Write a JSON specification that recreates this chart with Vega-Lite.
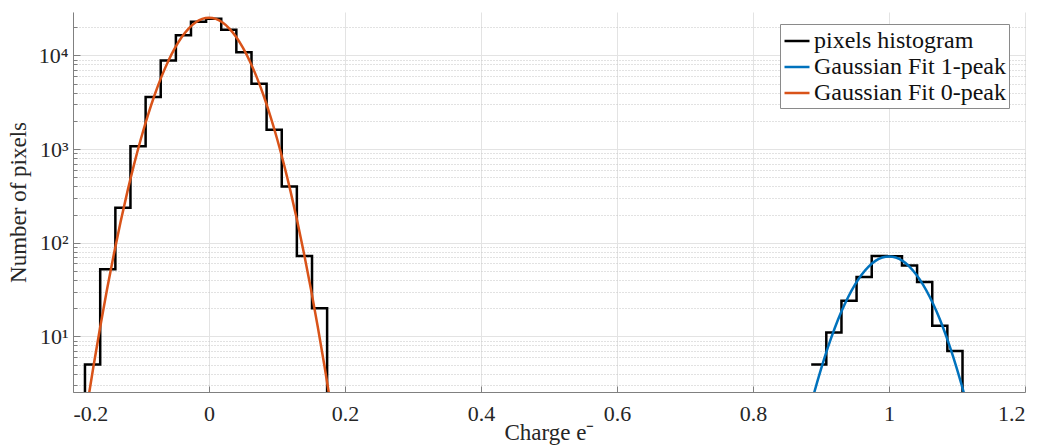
{
  "$schema": "https://vega.github.io/schema/vega-lite/v6.json",
  "width": 952,
  "height": 380,
  "autosize": {"type": "none"},
  "padding": {"left": 73, "top": 12, "right": 18, "bottom": 56},
  "background": "white",
  "config": {
    "view": {"stroke": null},
    "font": "Liberation Serif",
    "axis": {
      "labelFont": "Liberation Serif",
      "titleFont": "Liberation Serif",
      "labelColor": "#262626",
      "titleColor": "#262626",
      "titleFontWeight": "normal",
      "domainColor": "#808080",
      "tickColor": "#808080",
      "labelFontSize": 22,
      "titleFontSize": 22
    },
    "legend": {
      "orient": "none",
      "legendX": 707,
      "legendY": 12,
      "strokeColor": "#8a8a8a",
      "fillColor": "white",
      "padding": 3,
      "symbolType": "stroke",
      "symbolSize": 625,
      "symbolStrokeWidth": 2.5,
      "labelFont": "Liberation Serif",
      "labelFontSize": 24,
      "labelColor": "#111111",
      "labelOffset": 3,
      "rowPadding": 0,
      "labelLimit": 400
    }
  },
  "encoding": {
    "x": {
      "field": "charge",
      "type": "quantitative",
      "scale": {"domain": [-0.2, 1.2], "nice": false, "zero": false},
      "axis": {
        "values": [-0.2, 0, 0.2, 0.4, 0.6, 0.8, 1, 1.2],
        "labelExpr": "datum.value < -0.01 ? '-' + format(-datum.value, '.1f') : (abs(datum.value) < 0.01 ? '0' : (abs(datum.value - 1) < 0.01 ? '1' : format(datum.value, '.1f')))",
        "title": "Charge e⁻",
        "titleFontSize": 23,
        "grid": true,
        "gridColor": "#e3e3e3",
        "tickSize": -6,
        "labelPadding": 17,
        "titlePadding": -3
      }
    },
    "color": {
      "field": "series",
      "type": "nominal",
      "scale": {
        "domain": ["pixels histogram", "Gaussian Fit 1-peak", "Gaussian Fit 0-peak"],
        "range": ["#000000", "#0072BD", "#D95319"]
      },
      "legend": {"title": null}
    }
  },
  "layer": [
    {
      "data": {
        "values": [
          {"series": "pixels histogram", "seg": "L", "charge": -0.2049, "count": 1},
          {"series": "pixels histogram", "seg": "L", "charge": -0.1824, "count": 5},
          {"series": "pixels histogram", "seg": "L", "charge": -0.1600, "count": 52},
          {"series": "pixels histogram", "seg": "L", "charge": -0.1377, "count": 236},
          {"series": "pixels histogram", "seg": "L", "charge": -0.1155, "count": 1070},
          {"series": "pixels histogram", "seg": "L", "charge": -0.0932, "count": 3580},
          {"series": "pixels histogram", "seg": "L", "charge": -0.0710, "count": 8830},
          {"series": "pixels histogram", "seg": "L", "charge": -0.0487, "count": 16400},
          {"series": "pixels histogram", "seg": "L", "charge": -0.0265, "count": 22800},
          {"series": "pixels histogram", "seg": "L", "charge": -0.0043, "count": 24600},
          {"series": "pixels histogram", "seg": "L", "charge": 0.0180, "count": 18800},
          {"series": "pixels histogram", "seg": "L", "charge": 0.0402, "count": 10800},
          {"series": "pixels histogram", "seg": "L", "charge": 0.0625, "count": 4980},
          {"series": "pixels histogram", "seg": "L", "charge": 0.0847, "count": 1610},
          {"series": "pixels histogram", "seg": "L", "charge": 0.1070, "count": 399},
          {"series": "pixels histogram", "seg": "L", "charge": 0.1292, "count": 72},
          {"series": "pixels histogram", "seg": "L", "charge": 0.1515, "count": 20},
          {"series": "pixels histogram", "seg": "L", "charge": 0.1737, "count": 1},
          {"series": "pixels histogram", "seg": "R", "charge": 0.8856, "count": 5},
          {"series": "pixels histogram", "seg": "R", "charge": 0.9078, "count": 11},
          {"series": "pixels histogram", "seg": "R", "charge": 0.9301, "count": 24},
          {"series": "pixels histogram", "seg": "R", "charge": 0.9523, "count": 43},
          {"series": "pixels histogram", "seg": "R", "charge": 0.9746, "count": 72},
          {"series": "pixels histogram", "seg": "R", "charge": 0.9968, "count": 71.5},
          {"series": "pixels histogram", "seg": "R", "charge": 1.0191, "count": 57},
          {"series": "pixels histogram", "seg": "R", "charge": 1.0413, "count": 38},
          {"series": "pixels histogram", "seg": "R", "charge": 1.0636, "count": 13},
          {"series": "pixels histogram", "seg": "R", "charge": 1.0858, "count": 7},
          {"series": "pixels histogram", "seg": "R", "charge": 1.1081, "count": 1}
        ]
      },
      "mark": {"type": "line", "interpolate": "step-after", "strokeWidth": 2.5, "clip": true},
      "encoding": {
        "y": {
          "field": "count",
          "type": "quantitative",
          "scale": {"type": "log", "domain": [2.55, 29000], "nice": false},
          "axis": {
            "orient": "left",
            "values": [10, 100, 1000, 10000],
            "labelExpr": "datum.value == 10 ? '10¹' : datum.value == 100 ? '10²' : datum.value == 1000 ? '10³' : '10⁴'",
            "title": "Number of pixels",
            "grid": true,
            "gridColor": "#e3e3e3",
            "domain": true,
            "tickSize": -7,
            "labelPadding": 12,
            "titlePadding": 8,
            "titleFontSize": 23
          }
        },
        "detail": {"field": "seg", "type": "nominal"}
      }
    },
    {
      "data": {
        "values": [
          {"series": "Gaussian Fit 0-peak", "charge": -0.19, "count": 0.56},
          {"series": "Gaussian Fit 0-peak", "charge": -0.18, "count": 1.68},
          {"series": "Gaussian Fit 0-peak", "charge": -0.17, "count": 4.74},
          {"series": "Gaussian Fit 0-peak", "charge": -0.16, "count": 12.6},
          {"series": "Gaussian Fit 0-peak", "charge": -0.15, "count": 31.7},
          {"series": "Gaussian Fit 0-peak", "charge": -0.14, "count": 74.9},
          {"series": "Gaussian Fit 0-peak", "charge": -0.13, "count": 167},
          {"series": "Gaussian Fit 0-peak", "charge": -0.12, "count": 351},
          {"series": "Gaussian Fit 0-peak", "charge": -0.11, "count": 694},
          {"series": "Gaussian Fit 0-peak", "charge": -0.10, "count": 1295},
          {"series": "Gaussian Fit 0-peak", "charge": -0.09, "count": 2276},
          {"series": "Gaussian Fit 0-peak", "charge": -0.08, "count": 3770},
          {"series": "Gaussian Fit 0-peak", "charge": -0.07, "count": 5884},
          {"series": "Gaussian Fit 0-peak", "charge": -0.06, "count": 8656},
          {"series": "Gaussian Fit 0-peak", "charge": -0.05, "count": 11998},
          {"series": "Gaussian Fit 0-peak", "charge": -0.04, "count": 15672},
          {"series": "Gaussian Fit 0-peak", "charge": -0.03, "count": 19293},
          {"series": "Gaussian Fit 0-peak", "charge": -0.02, "count": 22380},
          {"series": "Gaussian Fit 0-peak", "charge": -0.01, "count": 24463},
          {"series": "Gaussian Fit 0-peak", "charge": 0.0, "count": 25200},
          {"series": "Gaussian Fit 0-peak", "charge": 0.01, "count": 24463},
          {"series": "Gaussian Fit 0-peak", "charge": 0.02, "count": 22380},
          {"series": "Gaussian Fit 0-peak", "charge": 0.03, "count": 19293},
          {"series": "Gaussian Fit 0-peak", "charge": 0.04, "count": 15672},
          {"series": "Gaussian Fit 0-peak", "charge": 0.05, "count": 11998},
          {"series": "Gaussian Fit 0-peak", "charge": 0.06, "count": 8656},
          {"series": "Gaussian Fit 0-peak", "charge": 0.07, "count": 5884},
          {"series": "Gaussian Fit 0-peak", "charge": 0.08, "count": 3770},
          {"series": "Gaussian Fit 0-peak", "charge": 0.09, "count": 2276},
          {"series": "Gaussian Fit 0-peak", "charge": 0.10, "count": 1295},
          {"series": "Gaussian Fit 0-peak", "charge": 0.11, "count": 694},
          {"series": "Gaussian Fit 0-peak", "charge": 0.12, "count": 351},
          {"series": "Gaussian Fit 0-peak", "charge": 0.13, "count": 167},
          {"series": "Gaussian Fit 0-peak", "charge": 0.14, "count": 74.9},
          {"series": "Gaussian Fit 0-peak", "charge": 0.15, "count": 31.7},
          {"series": "Gaussian Fit 0-peak", "charge": 0.16, "count": 12.6},
          {"series": "Gaussian Fit 0-peak", "charge": 0.17, "count": 4.74},
          {"series": "Gaussian Fit 0-peak", "charge": 0.18, "count": 1.68},
          {"series": "Gaussian Fit 0-peak", "charge": 0.19, "count": 0.56},
          {"series": "Gaussian Fit 1-peak", "charge": 0.87, "count": 0.66},
          {"series": "Gaussian Fit 1-peak", "charge": 0.88, "count": 1.33},
          {"series": "Gaussian Fit 1-peak", "charge": 0.89, "count": 2.51},
          {"series": "Gaussian Fit 1-peak", "charge": 0.90, "count": 4.48},
          {"series": "Gaussian Fit 1-peak", "charge": 0.91, "count": 7.59},
          {"series": "Gaussian Fit 1-peak", "charge": 0.92, "count": 12.14},
          {"series": "Gaussian Fit 1-peak", "charge": 0.93, "count": 18.39},
          {"series": "Gaussian Fit 1-peak", "charge": 0.94, "count": 26.36},
          {"series": "Gaussian Fit 1-peak", "charge": 0.95, "count": 35.74},
          {"series": "Gaussian Fit 1-peak", "charge": 0.96, "count": 45.85},
          {"series": "Gaussian Fit 1-peak", "charge": 0.97, "count": 55.66},
          {"series": "Gaussian Fit 1-peak", "charge": 0.98, "count": 63.92},
          {"series": "Gaussian Fit 1-peak", "charge": 0.99, "count": 69.45},
          {"series": "Gaussian Fit 1-peak", "charge": 1.00, "count": 71.4},
          {"series": "Gaussian Fit 1-peak", "charge": 1.01, "count": 69.45},
          {"series": "Gaussian Fit 1-peak", "charge": 1.02, "count": 63.92},
          {"series": "Gaussian Fit 1-peak", "charge": 1.03, "count": 55.66},
          {"series": "Gaussian Fit 1-peak", "charge": 1.04, "count": 45.85},
          {"series": "Gaussian Fit 1-peak", "charge": 1.05, "count": 35.74},
          {"series": "Gaussian Fit 1-peak", "charge": 1.06, "count": 26.36},
          {"series": "Gaussian Fit 1-peak", "charge": 1.07, "count": 18.39},
          {"series": "Gaussian Fit 1-peak", "charge": 1.08, "count": 12.14},
          {"series": "Gaussian Fit 1-peak", "charge": 1.09, "count": 7.59},
          {"series": "Gaussian Fit 1-peak", "charge": 1.10, "count": 4.48},
          {"series": "Gaussian Fit 1-peak", "charge": 1.11, "count": 2.51},
          {"series": "Gaussian Fit 1-peak", "charge": 1.12, "count": 1.33},
          {"series": "Gaussian Fit 1-peak", "charge": 1.13, "count": 0.66}
        ]
      },
      "mark": {"type": "line", "interpolate": "monotone", "strokeWidth": 2.5, "clip": true},
      "encoding": {
        "y": {
          "field": "count",
          "type": "quantitative",
          "axis": {
            "orient": "left",
            "values": [3, 4, 5, 6, 7, 8, 9, 20, 30, 40, 50, 60, 70, 80, 90, 200, 300, 400, 500, 600, 700, 800, 900, 2000, 3000, 4000, 5000, 6000, 7000, 8000, 9000, 20000],
            "labels": false,
            "domain": false,
            "title": null,
            "grid": true,
            "gridColor": "#c4c4c4",
            "gridDash": [1, 2],
            "tickSize": -4
          }
        }
      }
    }
  ],
  "resolve": {"axis": {"y": "independent"}}
}
